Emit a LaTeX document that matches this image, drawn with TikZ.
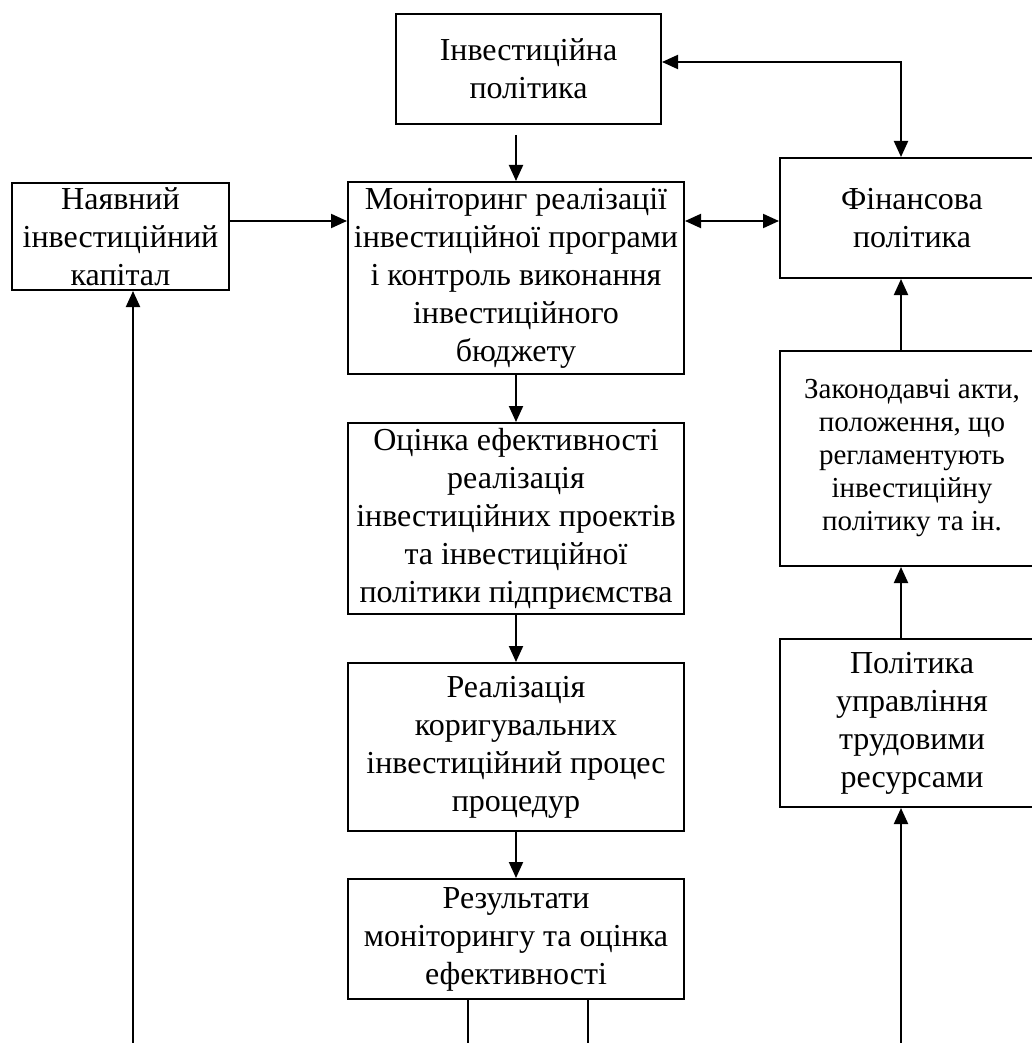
\documentclass[tikz,border=0pt]{standalone}
\usepackage{fontspec}
\setmainfont{Liberation Serif}
\usetikzlibrary{arrows.meta}
\tikzset{
  blk/.style={draw, line width=1pt, align=center, inner sep=0pt,
    font=\fontsize{16}{19}\selectfont},
  arr/.style={line width=1pt, -{Triangle[length=8pt,width=7pt]}},
  darr/.style={line width=1pt, {Triangle[length=8pt,width=7pt]}-{Triangle[length=8pt,width=7pt]}},
}
\begin{document}
\begin{tikzpicture}[x=0.5pt,y=-0.5pt]
  \useasboundingbox (0,0) rectangle (1032,1043);
  \clip (0,0) rectangle (1032,1043);
  % middle column
  \node[blk, minimum width=132.5pt, minimum height=55pt] (inv) at (528.5,69) {Інвестиційна\\політика};
  \node[blk, minimum width=168pt, minimum height=96pt] (mon) at (516,278)
    {Моніторинг реалізації\\інвестиційної програми\\і контроль виконання\\інвестиційного\\бюджету};
  \node[blk, minimum width=168pt, minimum height=95.5pt] (eval) at (516,518.5)
    {Оцінка ефективності\\реалізація\\інвестиційних проектів\\та інвестиційної\\політики підприємства};
  \node[blk, minimum width=168pt, minimum height=84pt] (corr) at (516,747)
    {Реалізація\\коригувальних\\інвестиційний процес\\процедур};
  \node[blk, minimum width=168pt, minimum height=60pt] (res) at (516,939)
    {Результати\\моніторингу та оцінка\\ефективності};
  % left column
  \node[blk, minimum width=108.5pt, minimum height=53.5pt] (cap) at (120.5,236.5)
    {Наявний\\інвестиційний\\капітал};
  % right column
  \node[blk, minimum width=132pt, minimum height=60pt] (fin) at (912,218) {Фінансова\\політика};
  \node[blk, minimum width=132pt, minimum height=107.5pt, font=\fontsize{14.5}{16.5}\selectfont] (laws) at (912,458.5)
    {Законодавчі акти,\\положення, що\\регламентують\\інвестиційну\\політику та ін.};
  \node[blk, minimum width=132pt, minimum height=84pt] (lab) at (912,723)
    {Політика\\управління\\трудовими\\ресурсами};

  \coordinate (capout) at ([yshift=7.75pt]cap.east);
  \coordinate (invout) at ([yshift=3.5pt]inv.east);
  \coordinate (finx) at ([xshift=-5.5pt]fin.north);
  \coordinate (lbot) at (133,1043);
  \coordinate (rbot) at (901,1043);

  \draw[arr] ([yshift=-5pt]inv.south -| mon.north) -- (mon.north);
  \draw[arr] (mon.south) -- (eval.north);
  \draw[arr] (eval.south) -- (corr.north);
  \draw[arr] (corr.south) -- (res.north);
  \draw[arr] (capout) -- (capout -| mon.west);
  \draw[darr] (capout -| mon.east) -- (capout -| fin.west);
  \draw[darr] (invout) -- (invout -| finx) -- (finx);
  \draw[arr] (finx |- laws.north) -- (finx |- fin.south);
  \draw[arr] (finx |- lab.north) -- (finx |- laws.south);
  \draw[arr] (rbot) -- (rbot |- lab.south);
  \draw[arr] (lbot) -- (lbot |- cap.south);
  \draw[line width=0.6pt] ([xshift=-24pt]res.south) -- ++(0,60);
  \draw[line width=0.6pt] ([xshift=36pt]res.south) -- ++(0,60);
\end{tikzpicture}
\end{document}
